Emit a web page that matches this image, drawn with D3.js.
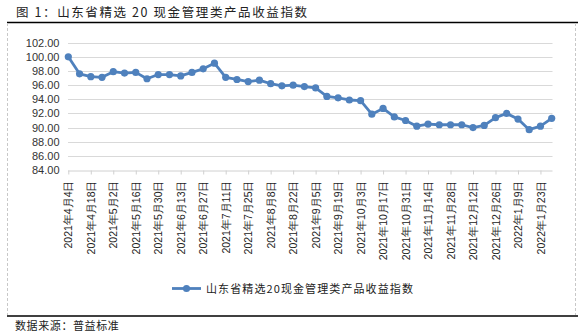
<!DOCTYPE html>
<html>
<head>
<meta charset="utf-8">
<script src="https://cdn.jsdelivr.net/npm/d3@7"></script>
<style>
  html, body { margin: 0; padding: 0; background: #fff; }
  svg { display: block; font-family: "Noto Sans CJK SC", "Noto Sans", sans-serif; }
</style>
</head>
<body>
<svg id="chart" width="584" height="336"></svg>
<script>
// Weekly index values, 2021-04-04 through 2022-01-30
const dates = [
  "2021-04-04","2021-04-11","2021-04-18","2021-04-25","2021-05-02","2021-05-09",
  "2021-05-16","2021-05-23","2021-05-30","2021-06-06","2021-06-13","2021-06-20",
  "2021-06-27","2021-07-04","2021-07-11","2021-07-18","2021-07-25","2021-08-01",
  "2021-08-08","2021-08-15","2021-08-22","2021-08-29","2021-09-05","2021-09-12",
  "2021-09-19","2021-09-26","2021-10-03","2021-10-10","2021-10-17","2021-10-24",
  "2021-10-31","2021-11-07","2021-11-14","2021-11-21","2021-11-28","2021-12-05",
  "2021-12-12","2021-12-19","2021-12-26","2022-01-02","2022-01-09","2022-01-16",
  "2022-01-23","2022-01-30"
];
const indexValues = [
  100.0, 97.6, 97.2, 97.1, 97.9, 97.7,
  97.8, 96.9, 97.5, 97.5, 97.3, 97.8,
  98.3, 99.1, 97.1, 96.8, 96.5, 96.7,
  96.2, 95.9, 96.0, 95.8, 95.6, 94.4,
  94.2, 93.9, 93.8, 91.9, 92.7, 91.5,
  91.0, 90.2, 90.5, 90.4, 90.4, 90.4,
  90.0, 90.3, 91.4, 92.0, 91.2, 89.7,
  90.2, 91.3
];
const yTicks = [84, 86, 88, 90, 92, 94, 96, 98, 100, 102];
const seriesName = "山东省精选20现金管理类产品收益指数";
const titleText = "图 1：山东省精选 20 现金管理类产品收益指数";
const sourceText = "数据来源：普益标准";

const svg = d3.select("#chart");
const blue = "#4f81bd";

// Frame: title rule, dashed sides, bottom rule
svg.append("text")
  .attr("x", 16).attr("y", 16.5)
  .attr("font-size", 12.5).attr("letter-spacing", 1.6)
  .attr("fill", "#222")
  .text(titleText);
svg.append("line").attr("x1", 7).attr("x2", 578).attr("y1", 22.5).attr("y2", 22.5)
  .attr("stroke", "#000").attr("stroke-width", 1.6);
[7.5, 575.5].forEach(x => {
  svg.append("line").attr("x1", x).attr("x2", x).attr("y1", 23).attr("y2", 315)
    .attr("stroke", "#c8c8c8").attr("stroke-dasharray", "3,2");
});
svg.append("line").attr("x1", 7).attr("x2", 578).attr("y1", 316).attr("y2", 316)
  .attr("stroke", "#000").attr("stroke-width", 1.6);
svg.append("text")
  .attr("x", 15).attr("y", 329.5)
  .attr("font-size", 11).attr("letter-spacing", 0.6)
  .attr("fill", "#222")
  .text(sourceText);

// Scales
const x = d3.scalePoint().domain(dates).range([68.3, 551.7]);
const y = d3.scaleLinear().domain([84, 102]).range([170, 42.7]);

// Gridlines
svg.append("g")
  .selectAll("line")
  .data(yTicks.slice(1))
  .join("line")
  .attr("x1", 68).attr("x2", 552.5)
  .attr("y1", d => Math.round(y(d)) + 0.5).attr("y2", d => Math.round(y(d)) + 0.5)
  .attr("stroke", "#d9d9d9");

// Y axis labels
const yAxis = d3.axisLeft(y).tickValues(yTicks).tickFormat(d3.format(".2f")).tickSize(0).tickPadding(0);
const yG = svg.append("g").attr("transform", "translate(59.5,0)").call(yAxis);
yG.select(".domain").remove();
yG.selectAll("text").attr("font-size", 11).attr("fill", "#333")
  .attr("font-family", "\"Liberation Sans\", Arial, sans-serif");

// X axis: every second week labelled
const fmt = s => {
  const [yy, mm, dd] = s.split("-").map(Number);
  return `${yy}年${mm}月${dd}日`;
};
const xAxis = d3.axisBottom(x)
  .tickValues(dates.filter((d, i) => i % 2 === 0))
  .tickSize(4).tickSizeOuter(0).tickFormat(fmt).tickPadding(0);
const xG = svg.append("g").attr("transform", "translate(0,170.5)").call(xAxis);
xG.select(".domain").attr("stroke", "#d0d0d0").attr("d", "M68,0.5H552.5");
xG.selectAll(".tick line").attr("stroke", "#d0d0d0");
xG.selectAll(".tick text")
  .attr("font-size", 10.5).attr("fill", "#222")
  .attr("text-anchor", "end")
  .attr("transform", "rotate(-90)")
  .attr("x", -10).attr("y", 0).attr("dy", "0.35em");

// Series line and markers
const line = d3.line().x((d, i) => x(dates[i])).y(d => y(d));
svg.append("path").datum(indexValues)
  .attr("d", line).attr("fill", "none")
  .attr("stroke", blue).attr("stroke-width", 2.8).attr("stroke-linejoin", "round");
svg.append("g").selectAll("circle")
  .data(indexValues)
  .join("circle")
  .attr("cx", (d, i) => x(dates[i])).attr("cy", d => y(d))
  .attr("r", 3.6).attr("fill", blue);

// Legend
const lg = svg.append("g");
lg.append("line").attr("x1", 172).attr("x2", 201).attr("y1", 288.5).attr("y2", 288.5)
  .attr("stroke", blue).attr("stroke-width", 2.8);
lg.append("circle").attr("cx", 186.5).attr("cy", 288.5).attr("r", 3.6).attr("fill", blue);
lg.append("text").attr("x", 206).attr("y", 292.5)
  .attr("font-size", 11).attr("letter-spacing", 1.1).attr("fill", "#222")
  .text(seriesName);
</script>
</body>
</html>
